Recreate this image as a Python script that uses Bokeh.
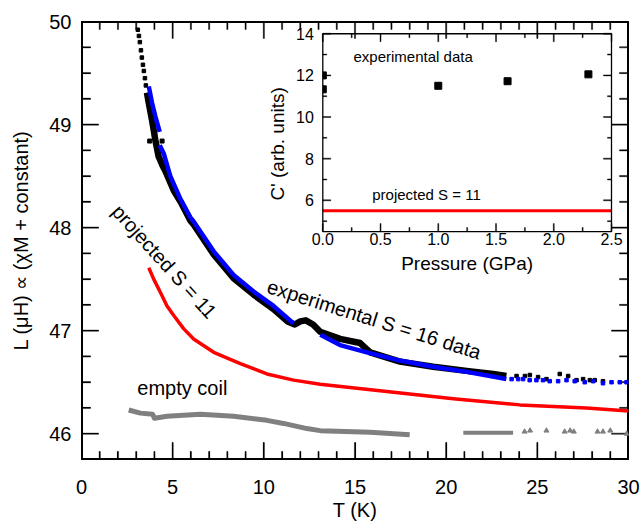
from bokeh.plotting import figure
from bokeh.models import Range1d, LinearAxis, FixedTicker, Label
from bokeh.embed import file_html
from bokeh.resources import INLINE
from bokeh.core.properties import value

FONT = "Liberation Sans"

# ---------------- main panel data (T in K, L in uH) ----------------
x_major_ticks = [0, 5, 10, 15, 20, 25, 30]
x_minor_ticks = [t for t in range(0, 31) if t % 5]
y_major_ticks = [46, 47, 48, 49, 50]
y_minor_ticks = [45.75, 46.25, 46.5, 46.75, 47.25, 47.5, 47.75, 48.25, 48.5, 48.75,
                 49.25, 49.5, 49.75]

# experimental data, black (sparse low-T part, dense part, sparse high-T tail, stray points)
black_dot_T = [3.09, 3.15, 3.20, 3.26, 3.31, 3.37, 3.42, 3.48, 3.53]
black_dot_L = [49.92, 49.86, 49.80, 49.72, 49.65, 49.58, 49.52, 49.45, 49.38]
black_T = [3.59, 3.69, 3.87, 4.05, 4.23, 4.45, 4.60, 5.06, 5.50, 5.97, 6.15, 7.25, 8.34,
           9.44, 10.53, 11.30, 11.70, 12.00, 12.30, 12.70, 13.09, 14.18, 15.28, 15.83,
           17.47, 19.29, 21.12, 22.58, 23.30]
black_L = [49.31, 49.21, 49.04, 48.85, 48.69, 48.60, 48.55, 48.36, 48.23, 48.07, 48.03,
           47.74, 47.51, 47.35, 47.21, 47.09, 47.06, 47.09, 47.10, 47.06, 46.99, 46.92,
           46.88, 46.79, 46.70, 46.65, 46.61, 46.58, 46.56]
black_tail_T = [23.86, 24.32, 24.59, 25.04, 25.50, 26.23, 26.69, 27.15, 27.51, 27.88, 28.15, 28.60]
black_tail_L = [46.56, 46.56, 46.57, 46.55, 46.53, 46.58, 46.56, 46.52, 46.53, 46.52, 46.52, 46.51]
black_stray_T = [3.74, 4.42]
black_stray_L = [48.84, 48.84]

# experimental data, blue (three dense segments and a sparse tail)
blue1_T = [3.69, 3.87, 4.05, 4.29]
blue1_L = [49.37, 49.21, 49.08, 48.93]
blue2_T = [4.29, 4.51, 4.87, 5.42, 5.97, 6.15, 7.25, 8.34, 9.44, 10.53, 11.63]
blue2_L = [48.80, 48.72, 48.50, 48.28, 48.10, 48.06, 47.77, 47.54, 47.38, 47.24, 47.07]
blue3_T = [13.10, 14.18, 15.65, 17.47, 19.29, 21.12, 22.40, 23.30]
blue3_L = [46.96, 46.86, 46.79, 46.71, 46.65, 46.60, 46.56, 46.53]
blue_tail_T = [23.59, 23.95, 24.22, 24.58, 24.95, 25.31, 25.68, 26.14, 26.60, 27.05, 27.60,
               28.06, 28.60, 29.07, 29.52, 29.89]
blue_tail_L = [46.53, 46.53, 46.53, 46.52, 46.52, 46.52, 46.51, 46.51, 46.52, 46.51, 46.50,
               46.51, 46.49, 46.50, 46.50, 46.50]

# projected S = 11 curve
proj_T = [3.69, 3.96, 4.33, 4.69, 5.05, 5.60, 6.15, 7.25, 8.71, 10.17, 11.63, 13.09, 16.74,
          20.39, 24.04, 27.69, 30.00]
proj_L = [47.61, 47.50, 47.37, 47.24, 47.15, 47.02, 46.92, 46.79, 46.68, 46.58, 46.52, 46.48,
          46.41, 46.34, 46.28, 46.25, 46.22]

# empty coil
coil1_T = [2.59, 3.23, 3.90, 4.00, 4.69, 6.52, 8.34, 10.17, 11.08, 12.36, 13.09, 15.83, 18.00]
coil1_L = [46.23, 46.20, 46.19, 46.15, 46.17, 46.19, 46.17, 46.13, 46.10, 46.05, 46.03, 46.015, 45.99]
coil2_T = [20.94, 22.00, 23.67]
coil2_L = [46.01, 46.01, 46.01]
coil_dot_T = [24.30, 24.60, 25.50, 26.50, 26.80, 27.00, 28.30, 28.60, 29.00, 29.90]
coil_dot_L = [46.02, 46.03, 46.03, 46.02, 46.03, 46.02, 46.02, 46.02, 46.03, 46.00]

# ---------------- inset data ----------------
pressure = [0.0, 0.0, 1.0, 1.6, 2.3]
c_prime = [12.0, 11.33, 11.5, 11.72, 12.05]
c_projected = 5.5
inset_x_major = [0.0, 0.5, 1.0, 1.5, 2.0, 2.5]
inset_x_labels = ["0.0", "0.5", "1.0", "1.5", "2.0", "2.5"]
inset_x_minor = [0.25, 0.75, 1.25, 1.75, 2.25]
inset_y_major = [6, 8, 10, 12, 14]
inset_y_labels = ["6", "8", "10", "12", "14"]
inset_y_minor = [5, 7, 9, 11, 13]
IN_X = (0.0, 2.5)
IN_Y = (4.5, 14.0)

# ---------------- layout geometry (pixels inside figure) ----------------
FIG_W, FIG_H = 641, 523
FL, FR, FT, FB = 81, 628, 21, 461                  # main frame
IX0, IX1, IY0, IY1 = 322.3, 611.0, 33.3, 232.0     # inset frame (left,right,top,bottom)
XR = (0.0, 30.0)
YR = (45.75, 50.0)
TW = 1.2   # tick thickness (px), plus a thin outline

p = figure(width=FIG_W, height=FIG_H, x_range=Range1d(*XR), y_range=Range1d(*YR),
           output_backend="svg", toolbar_location=None,
           x_axis_type=None, y_axis_type=None,
           min_border_left=FL, min_border_right=FIG_W - FR,
           min_border_top=FT, min_border_bottom=FIG_H - FB)
p.outline_line_color = "black"
p.outline_line_width = 1

xt = FixedTicker(ticks=x_major_ticks, minor_ticks=x_minor_ticks)
yt = FixedTicker(ticks=y_major_ticks, minor_ticks=y_minor_ticks)


def style(ax, maj, mnr):
    ax.axis_line_color = "black"
    ax.axis_line_width = 1
    ax.major_tick_in = maj
    ax.major_tick_out = 0
    ax.minor_tick_in = mnr
    ax.minor_tick_out = 0
    ax.major_tick_line_color = "black"
    ax.minor_tick_line_color = "black"
    ax.major_tick_line_width = 1
    ax.minor_tick_line_width = 1
    ax.major_label_text_font = FONT
    ax.major_label_text_font_size = "20px"
    ax.major_label_text_color = "black"
    ax.axis_label_text_font = FONT
    ax.axis_label_text_font_size = "20px"
    ax.axis_label_text_font_style = "normal"
    ax.axis_label_text_color = "black"


xb = LinearAxis(ticker=xt, axis_label="T (K)")
style(xb, 17, 8)
xb.major_label_standoff = 20
xb.axis_label_standoff = 2
p.add_layout(xb, "below")

yl = LinearAxis(ticker=yt, axis_label="L (μH) ∝ (χM + constant)")
style(yl, 17, 9)
yl.major_label_standoff = 10
yl.axis_label_standoff = 14
p.add_layout(yl, "left")

msx = (FR - FL) / (XR[1] - XR[0])
msy = (FB - FT) / (YR[1] - YR[0])

TICK = dict(fill_color="black", line_color="black", line_width=0.4)


def main_xticks(ticks, length):
    w = TW / msx / 2
    h = length / msy
    n = len(ticks)
    p.quad(left=[t - w for t in ticks], right=[t + w for t in ticks],
           bottom=[YR[0]] * n, top=[YR[0] + h] * n, **TICK)
    p.quad(left=[t - w for t in ticks], right=[t + w for t in ticks],
           bottom=[YR[1] - h] * n, top=[YR[1]] * n, **TICK)


def main_yticks(ticks, length):
    w = length / msx
    h = TW / msy / 2
    n = len(ticks)
    p.quad(left=[XR[0]] * n, right=[XR[0] + w] * n,
           bottom=[t - h for t in ticks], top=[t + h for t in ticks], **TICK)
    p.quad(left=[XR[1] - w] * n, right=[XR[1]] * n,
           bottom=[t - h for t in ticks], top=[t + h for t in ticks], **TICK)


main_xticks(x_major_ticks, 17)
main_xticks(x_minor_ticks, 8)
main_yticks(y_major_ticks, 17)
main_yticks(y_minor_ticks, 9)

# frame border (half of the stroke is clipped by the frame)
p.quad(left=[XR[0]], right=[XR[1]], bottom=[YR[0]], top=[YR[1]],
       fill_color=None, line_color="black", line_width=3)

# ---------------- main series ----------------
p.line(coil1_T, coil1_L, line_color="#808080", line_width=5, line_join="round")
p.line(coil2_T, coil2_L, line_color="#808080", line_width=4, line_join="round")
p.scatter(coil_dot_T, coil_dot_L, marker="triangle", size=5,
          fill_color="#808080", line_color="#808080")

p.line(proj_T, proj_L, line_color="red", line_width=3.5, line_join="round")

p.scatter(black_dot_T, black_dot_L, marker="square", size=3.5, fill_color="black", line_color="black")
p.line(black_T, black_L, line_color="black", line_width=6.5, line_join="round")
p.scatter(black_tail_T, black_tail_L, marker="square", size=3.5, fill_color="black", line_color="black")
p.scatter(black_stray_T, black_stray_L, marker="square", size=4, fill_color="black", line_color="black")

for bt, bl in ((blue1_T, blue1_L), (blue2_T, blue2_L), (blue3_T, blue3_L)):
    p.line(bt, bl, line_color="blue", line_width=4.5, line_join="round")
p.scatter(blue_tail_T, blue_tail_L, marker="square", size=3.5, fill_color="blue", line_color="blue")

# ---------------- main annotations ----------------
def lab(x, y, text, size="20px", angle=0, align="center", baseline="middle", **kw):
    p.add_layout(Label(x=x, y=y, text=text, angle=angle, angle_units="deg",
                       text_font=FONT, text_font_size=size, text_color="black",
                       text_align=align, text_baseline=baseline, **kw))

lab(4.55, 47.67, "projected S = 11", angle=-48)
lab(16.05, 47.11, "experimental S = 16 data", angle=-17.5)
lab(5.53, 46.44, "empty coil")

# ---------------- inset (drawn on extra ranges inside the main frame) ----------------
sx = (IX1 - IX0) / (IN_X[1] - IN_X[0])
sy = (IY1 - IY0) / (IN_Y[1] - IN_Y[0])
p.extra_x_ranges = {"ix": Range1d(IN_X[0] - (IX0 - FL) / sx, IN_X[1] + (FR - IX1) / sx)}
p.extra_y_ranges = {"iy": Range1d(IN_Y[0] - (FB - IY1) / sy, IN_Y[1] + (IY0 - FT) / sy)}
R = dict(x_range_name="ix", y_range_name="iy")

p.line([IN_X[0], IN_X[1]], [c_projected, c_projected], line_color="red", line_width=3, **R)
p.scatter(pressure, c_prime, marker="square", size=7, fill_color="black", line_color="black", **R)
# hide the halves of the P = 0 markers that fall outside the inset frame
p.quad(left=[IN_X[0] - 5 / sx], right=[IN_X[0]], bottom=[10.8], top=[12.6],
       fill_color="white", line_color=None, **R)


def inset_xticks(ticks, length):
    w = 1.0 / sx / 2
    h = length / sy
    n = len(ticks)
    p.quad(left=[t - w for t in ticks], right=[t + w for t in ticks],
           bottom=[IN_Y[0]] * n, top=[IN_Y[0] + h] * n, **TICK, **R)
    p.quad(left=[t - w for t in ticks], right=[t + w for t in ticks],
           bottom=[IN_Y[1] - h] * n, top=[IN_Y[1]] * n, **TICK, **R)


def inset_yticks(ticks, length):
    w = length / sx
    h = 1.0 / sy / 2
    n = len(ticks)
    p.quad(left=[IN_X[0]] * n, right=[IN_X[0] + w] * n,
           bottom=[t - h for t in ticks], top=[t + h for t in ticks], **TICK, **R)
    p.quad(left=[IN_X[1] - w] * n, right=[IN_X[1]] * n,
           bottom=[t - h for t in ticks], top=[t + h for t in ticks], **TICK, **R)


inset_xticks(inset_x_major, 8)
inset_xticks(inset_x_minor, 4)
inset_yticks(inset_y_major, 8)
inset_yticks(inset_y_minor, 4)

p.quad(left=[IN_X[0]], right=[IN_X[1]], bottom=[IN_Y[0]], top=[IN_Y[1]],
       fill_color=None, line_color="black", line_width=1.3, **R)

# inset tick labels
p.text(x=inset_x_major, y=[IN_Y[0] - 1 / sy] * 6, text=inset_x_labels,
       text_font=value(FONT), text_font_size="16px", text_color="black",
       text_align="center", text_baseline="top", **R)
p.text(x=[IN_X[0] - 9 / sx] * 5, y=inset_y_major, text=inset_y_labels,
       text_font=value(FONT), text_font_size="16px", text_color="black",
       text_align="right", text_baseline="middle", **R)


def ilab(x, y, text, size, angle=0, align="center"):
    p.add_layout(Label(x=x, y=y, text=text, angle=angle, angle_units="deg",
                       text_font=FONT, text_font_size=size, text_color="black",
                       text_align=align, text_baseline="middle", **R))


ilab(1.25, 2.97, "Pressure (GPa)", "19px")
ilab(-0.392, 8.71, "C' (arb. units)", "19px", angle=90)
ilab(0.266, 12.91, "experimental data", "15px", align="left")
ilab(0.428, 6.27, "projected S = 11", "15px", align="left")

open("out.html", "w").write(file_html(p, INLINE))
